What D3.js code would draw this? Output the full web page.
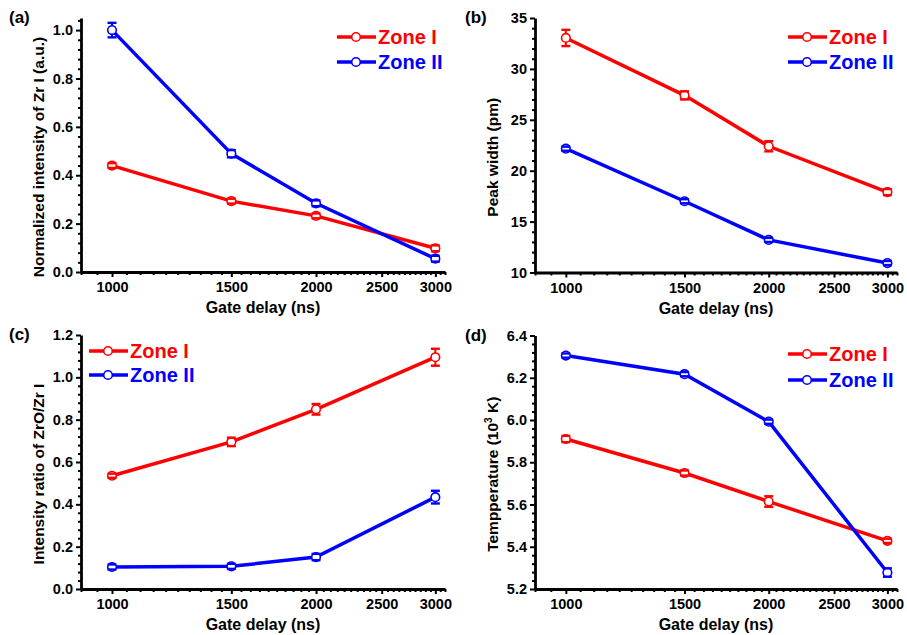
<!DOCTYPE html>
<html>
<head>
<meta charset="utf-8">
<script src="https://cdn.jsdelivr.net/npm/d3@7"></script>
<style>
  body { margin: 0; background: #fff; }
  text { font-family: "Liberation Sans", Arial, sans-serif; font-weight: bold; }
</style>
</head>
<body>
<script>
// gate delays (ns), shared by all four panels
var delays = [1000, 1500, 2000, 3000];
var xTicks = [1000, 1500, 2000, 2500, 3000];

// (a) normalized intensity of Zr I
var a_zone1 = [0.44, 0.293, 0.232, 0.098];
var a_zone1_err = [0.01, 0.01, 0.01, 0.012];
var a_zone2 = [1.0, 0.489, 0.284, 0.055];
var a_zone2_err = [0.03, 0.015, 0.012, 0.012];

// (b) peak width (pm)
var b_zone1 = [33.04, 27.4, 22.4, 17.9];
var b_zone1_err = [0.8, 0.4, 0.5, 0.3];
var b_zone2 = [22.16, 17.0, 13.2, 10.93];
var b_zone2_err = [0.2, 0.2, 0.2, 0.2];

// (c) intensity ratio ZrO / Zr I
var c_zone1 = [0.535, 0.695, 0.849, 1.095];
var c_zone1_err = [0.01, 0.02, 0.025, 0.04];
var c_zone2 = [0.104, 0.107, 0.151, 0.434];
var c_zone2_err = [0.012, 0.012, 0.015, 0.03];

// (d) temperature (10^3 K)
var d_zone1 = [5.91, 5.749, 5.614, 5.428];
var d_zone1_err = [0.015, 0.012, 0.025, 0.01];
var d_zone2 = [6.305, 6.217, 5.992, 5.278];
var d_zone2_err = [0.01, 0.01, 0.01, 0.02];

var RED = "#ff0000", BLUE = "#0000ff";

var svg = d3.select("body").append("svg")
  .attr("width", 907)
  .attr("height", 635);

function drawPanel(p) {
  var x = d3.scaleLog().domain([900, 3100]).range([p.left, p.right]);
  var y = d3.scaleLinear().domain(p.yDomain).range([p.bottom, p.top]);
  var g = svg.append("g");

  // minor ticks first
  var xMinor = d3.range(900, 3101, 50).filter(v => xTicks.indexOf(v) < 0);
  g.append("g")
    .attr("transform", "translate(0," + p.bottom + ")")
    .call(d3.axisBottom(x).tickValues(xMinor).tickSize(3).tickFormat(""))
    .call(s => s.select(".domain").remove());
  var yMinor = d3.range(p.yDomain[0], p.yDomain[1] + 1e-9, p.yMinor)
    .filter(v => Math.abs(Math.round(v / p.yStep) * p.yStep - v) > 1e-6);
  g.append("g")
    .attr("transform", "translate(" + p.left + ",0)")
    .call(d3.axisLeft(y).tickValues(yMinor).tickSize(3).tickFormat(""))
    .call(s => s.select(".domain").remove());

  // major axes
  var xa = g.append("g")
    .attr("transform", "translate(0," + p.bottom + ")")
    .call(d3.axisBottom(x).tickValues(xTicks).tickFormat(d3.format("d")).tickSize(5).tickSizeOuter(0).tickPadding(5));
  var ya = g.append("g")
    .attr("transform", "translate(" + p.left + ",0)")
    .call(d3.axisLeft(y).tickValues(d3.range(p.yDomain[0], p.yDomain[1] + 1e-9, p.yStep))
      .tickFormat(d3.format(p.fmt)).tickSize(5).tickSizeOuter(0).tickPadding(3));
  g.selectAll(".tick line").attr("stroke", "#000").attr("stroke-width", 2);
  [xa, ya].forEach(a => {
    a.select(".domain").attr("stroke-width", 2.8);
    a.selectAll("text").style("font-size", "14.5px").attr("fill", "#000");
  });

  // titles
  g.append("text")
    .attr("x", (p.left + p.right) / 2)
    .attr("y", p.bottom + 41)
    .attr("text-anchor", "middle")
    .style("font-size", "16px")
    .text("Gate delay (ns)");
  var yt = g.append("text")
    .attr("transform", "translate(" + (p.left - 37) + "," + ((p.top + p.bottom) / 2 + 12) + ") rotate(-90)")
    .attr("text-anchor", "middle")
    .style("font-size", "15.5px");
  if (p.sup) {
    yt.append("tspan").text(p.ytitle);
    yt.append("tspan").attr("dy", -6).style("font-size", "10px").text(p.sup);
    yt.append("tspan").attr("dy", 6).text(p.ytitleEnd);
  } else {
    yt.text(p.ytitle);
  }
  g.append("text")
    .attr("x", p.labelX)
    .attr("y", p.top + 5)
    .style("font-size", "17px")
    .text(p.label);

  // series
  var line = d3.line().x((d, i) => x(delays[i])).y(d => y(d));
  var r = 4.3;
  p.series.forEach(s => {
    g.append("path")
      .datum(s.values)
      .attr("d", line)
      .attr("fill", "none")
      .attr("stroke", s.color)
      .attr("stroke-width", 3.5);
    var pts = g.selectAll(null).data(s.values).enter().append("g")
      .attr("transform", (d, i) => "translate(" + x(delays[i]) + "," + y(d) + ")");
    pts.append("circle")
      .attr("r", r)
      .attr("fill", "#fff")
      .attr("stroke", s.color)
      .attr("stroke-width", 1.6);
    pts.each(function (d, i) {
      var el = d3.select(this);
      var e = y(d - s.err[i]) - y(d);
      [-1, 1].forEach(dir => {
        if (e > r) {
          el.append("line").attr("x1", 0).attr("x2", 0)
            .attr("y1", dir * r).attr("y2", dir * e)
            .attr("stroke", s.color).attr("stroke-width", 2);
        }
        el.append("line").attr("x1", -4.5).attr("x2", 4.5)
          .attr("y1", dir * e).attr("y2", dir * e)
          .attr("stroke", s.color).attr("stroke-width", 2.4);
      });
    });
  });

  // legend
  p.series.forEach((s, i) => {
    var ly = p.legY[i];
    g.append("line")
      .attr("x1", p.legX).attr("x2", p.legX + 39)
      .attr("y1", ly).attr("y2", ly)
      .attr("stroke", s.color).attr("stroke-width", 3.5);
    g.append("circle")
      .attr("cx", p.legX + 19).attr("cy", ly).attr("r", 4.3)
      .attr("fill", "#fff").attr("stroke", s.color).attr("stroke-width", 1.6);
    g.append("text")
      .attr("x", p.legX + 41).attr("y", ly + 7)
      .attr("fill", s.color)
      .style("font-size", "20px")
      .text(s.name);
  });
}

drawPanel({
  left: 81, right: 445, top: 18, bottom: 272,
  yDomain: [0, 1.05], yStep: 0.2, yMinor: 0.04, fmt: ".1f",
  label: "(a)", labelX: 9,
  ytitle: "Normalized intensity of Zr I (a.u.)",
  legX: 337, legY: [37, 62],
  series: [
    { name: "Zone I", color: RED, values: a_zone1, err: a_zone1_err },
    { name: "Zone II", color: BLUE, values: a_zone2, err: a_zone2_err }
  ]
});

drawPanel({
  left: 535, right: 897, top: 18, bottom: 272.5,
  yDomain: [10, 35], yStep: 5, yMinor: 1, fmt: "d",
  label: "(b)", labelX: 465,
  ytitle: "Peak width (pm)",
  legX: 788, legY: [37, 62],
  series: [
    { name: "Zone I", color: RED, values: b_zone1, err: b_zone1_err },
    { name: "Zone II", color: BLUE, values: b_zone2, err: b_zone2_err }
  ]
});

drawPanel({
  left: 81, right: 445, top: 335, bottom: 589,
  yDomain: [0, 1.2], yStep: 0.2, yMinor: 0.04, fmt: ".1f",
  label: "(c)", labelX: 9,
  ytitle: "Intensity ratio of ZrO/Zr I",
  legX: 89, legY: [351, 375],
  series: [
    { name: "Zone I", color: RED, values: c_zone1, err: c_zone1_err },
    { name: "Zone II", color: BLUE, values: c_zone2, err: c_zone2_err }
  ]
});

drawPanel({
  left: 535, right: 897, top: 335.5, bottom: 589,
  yDomain: [5.2, 6.4], yStep: 0.2, yMinor: 0.04, fmt: ".1f",
  label: "(d)", labelX: 465,
  ytitle: "Tempperature (10", sup: "3", ytitleEnd: " K)",
  legX: 788, legY: [354, 380],
  series: [
    { name: "Zone I", color: RED, values: d_zone1, err: d_zone1_err },
    { name: "Zone II", color: BLUE, values: d_zone2, err: d_zone2_err }
  ]
});
</script>
</body>
</html>
